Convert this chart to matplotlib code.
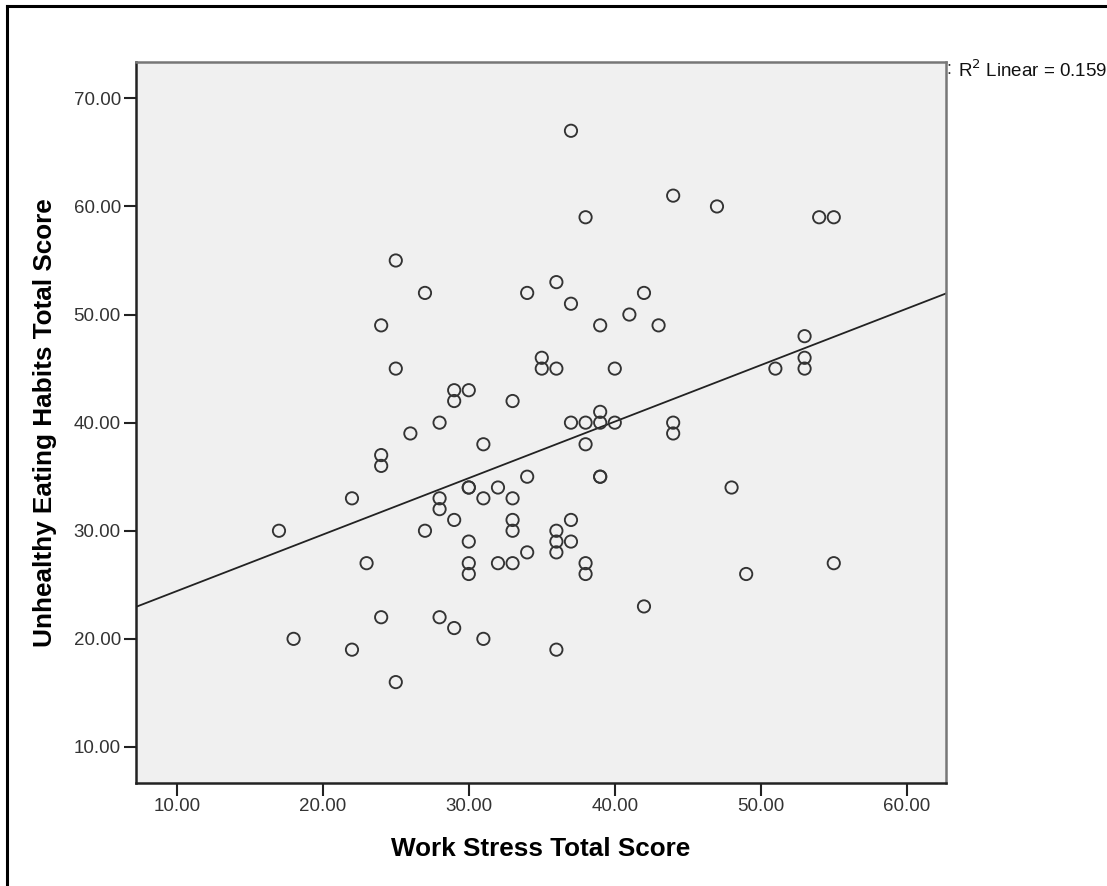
import matplotlib.pyplot as plt
import numpy as np
from matplotlib.lines import Line2D

plt.rcParams['font.family'] = ['Liberation Sans', 'DejaVu Sans']

# Work stress total score (x) and unhealthy eating habits total score (y)
work_stress = [25, 27, 24, 25, 29, 29, 30, 37, 38, 34, 36, 37, 42, 41, 39, 43,
               35, 35, 36, 40, 33, 44, 47, 54, 55, 53, 53, 53, 51, 28, 26, 24,
               24, 22, 17, 28, 28, 29, 27, 30, 30, 30, 30, 30, 23, 24, 28, 29,
               18, 22, 25, 31, 37, 38, 39, 40, 39, 38, 34, 39, 39, 32, 31, 33,
               33, 33, 37, 36, 36, 36, 37, 34, 32, 33, 38, 38, 42, 31, 36, 44,
               44, 48, 49, 55]
eating = [55, 52, 49, 45, 43, 42, 43, 67, 59, 52, 53, 51, 52, 50, 49, 49,
          46, 45, 45, 45, 42, 61, 60, 59, 59, 48, 46, 45, 45, 40, 39, 37,
          36, 33, 30, 33, 32, 31, 30, 34, 34, 29, 27, 26, 27, 22, 22, 21,
          20, 19, 16, 38, 40, 40, 40, 40, 41, 38, 35, 35, 35, 34, 33, 33,
          31, 30, 31, 30, 29, 28, 29, 28, 27, 27, 27, 26, 23, 20, 19, 40,
          39, 34, 26, 27]
x_ticks = [10, 20, 30, 40, 50, 60]
y_ticks = [10, 20, 30, 40, 50, 60, 70]
r2_label = "R$^2$ Linear = 0.159"

x = np.array(work_stress, dtype=float)
y = np.array(eating, dtype=float)

fig = plt.figure(figsize=(11.07, 8.86), dpi=100)
ax = fig.add_axes([0.1229, 0.1163, 0.7317, 0.8137])
ax.set_facecolor('#f0f0f0')

xmin, xmax = 7.21, 62.69
ax.set_xlim(xmin, xmax)
ax.set_ylim(6.67, 73.36)

ax.scatter(x, y, s=78, facecolors='none', edgecolors='#333333', linewidths=1.35, zorder=3)

# least squares fit line across the full x range
slope, intercept = np.polyfit(x, y, 1)
xs = np.array([xmin, xmax])
ax.plot(xs, intercept + slope * xs, color='#222222', linewidth=1.3, zorder=2)

ax.set_xticks(x_ticks)
ax.set_yticks(y_ticks)
ax.set_xticklabels([f"{v:.2f}" for v in x_ticks])
ax.set_yticklabels([f"{v:.2f}" for v in y_ticks])
ax.tick_params(direction='out', length=9, width=1.5, labelsize=13.5,
               labelcolor='#333333', color='#222222', pad=2)

for side in ['left', 'bottom']:
    ax.spines[side].set_color('#222222')
    ax.spines[side].set_linewidth(1.8)
for side in ['top', 'right']:
    ax.spines[side].set_color('#777777')
    ax.spines[side].set_linewidth(1.8)

ax.set_xlabel("Work Stress Total Score", fontsize=18.8, fontweight='bold', labelpad=16)
ax.set_ylabel("Unhealthy Eating Habits Total Score", fontsize=18.8, fontweight='bold', labelpad=12)

fig.text(946 / 1107, 1 - 70 / 886, ":", fontsize=13, va='center', ha='left', color='#333333')
fig.text(958 / 1107, 1 - 70 / 886, r2_label, fontsize=13.5, va='center', ha='left', color='#111111')

# frame around the output
fig.add_artist(Line2D([7 / 1107, 1.0], [1 - 6 / 886, 1 - 6 / 886], color='black', linewidth=2.2,
                      transform=fig.transFigure))
fig.add_artist(Line2D([7 / 1107, 7 / 1107], [0.0, 1 - 6 / 886], color='black', linewidth=2.2,
                      transform=fig.transFigure))

fig.savefig("out.png", dpi=100)
